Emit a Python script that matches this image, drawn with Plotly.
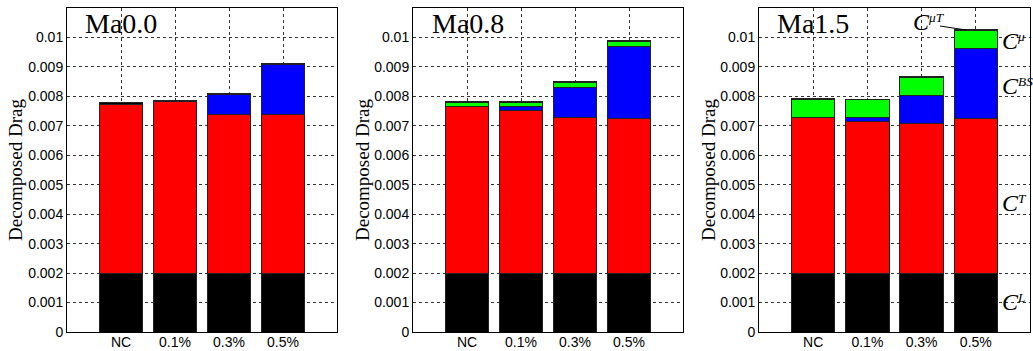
import plotly.graph_objects as go

W, H = 1033, 351

categories = ["NC", "0.1%", "0.3%", "0.5%"]
xpos = [1, 2, 3, 4]
panel_titles = ["Ma0.0", "Ma0.8", "Ma1.5"]

# components per Mach number: C^L, C^T, C^BS, C^mu, C^muT
CL_ma00 = [0.0020, 0.0020, 0.0020, 0.0020]
CT_ma00 = [0.00574, 0.00582, 0.00539, 0.00537]
CBS_ma00 = [0.0, 0.0, 0.00066, 0.00171]
Cmu_ma00 = [0.0, 0.0, 0.0, 0.0]
CmuT_ma00 = [0.00004, 0.00004, 0.00004, 0.00005]

CL_ma08 = [0.0020, 0.0020, 0.0020, 0.0020]
CT_ma08 = [0.00564, 0.00551, 0.00529, 0.00526]
CBS_ma08 = [0.0, 0.00013, 0.00100, 0.00244]
Cmu_ma08 = [0.00016, 0.00016, 0.00017, 0.00015]
CmuT_ma08 = [0.00003, 0.00003, 0.00003, 0.00003]

CL_ma15 = [0.0020, 0.0020, 0.0020, 0.0020]
CT_ma15 = [0.00527, 0.00513, 0.00509, 0.00526]
CBS_ma15 = [0.0, 0.00014, 0.00094, 0.00236]
Cmu_ma15 = [0.00062, 0.00061, 0.00062, 0.00062]
CmuT_ma15 = [0.00003, 0.00003, 0.00003, 0.00003]

ytick_vals = [0, 0.001, 0.002, 0.003, 0.004, 0.005, 0.006, 0.007, 0.008, 0.009, 0.01]
ytick_text = ["0", "0.001", "0.002", "0.003", "0.004", "0.005", "0.006", "0.007", "0.008", "0.009", "0.01"]

panels = [
    (CL_ma00, CT_ma00, CBS_ma00, Cmu_ma00, CmuT_ma00),
    (CL_ma08, CT_ma08, CBS_ma08, Cmu_ma08, CmuT_ma08),
    (CL_ma15, CT_ma15, CBS_ma15, Cmu_ma15, CmuT_ma15),
]
colors = ["#000000", "#FF0000", "#0000FF", "#00FF00", "#000000"]
names = ["C^L", "C^T", "C^BS", "C^mu", "C^muT"]

def px(x):
    return x / W

def py(y):
    return 1 - y / H

x_domains = [(67, 337), (413, 683), (759, 1030)]
y_domain = [py(332), py(8)]

fig = go.Figure()
for i, comps in enumerate(panels):
    ax = "" if i == 0 else str(i + 1)
    for j, vals in enumerate(comps):
        fig.add_trace(go.Bar(
            x=xpos, y=vals, name=names[j], showlegend=False,
            marker=dict(color=colors[j], line=dict(color="#222222", width=1)),
            xaxis="x" + ax, yaxis="y" + ax, width=0.8,
            hoverinfo="y",
        ))

tickfont = dict(family="Liberation Sans, Arial", size=14, color="black")
layout = dict(
    width=W, height=H, margin=dict(l=0, r=0, t=0, b=0),
    paper_bgcolor="white", plot_bgcolor="white",
    barmode="stack", showlegend=False,
    font=dict(family="Liberation Sans, Arial", size=14, color="black"),
)
for i, (a, b) in enumerate(x_domains):
    ax = "" if i == 0 else str(i + 1)
    layout["xaxis" + ax] = dict(
        domain=[px(a), px(b)], range=[0, 5], anchor="y" + ax,
        tickvals=xpos, ticktext=categories, automargin=False,
        ticklabelstandoff=-3,
        showgrid=True, gridcolor="#333333", griddash="3px,3px", gridwidth=1,
        showline=True, linecolor="black", linewidth=1, mirror=True,
        ticks="", zeroline=False, fixedrange=True, tickfont=tickfont,
    )
    layout["yaxis" + ax] = dict(
        domain=y_domain, range=[0, 0.011], anchor="x" + ax,
        tickvals=ytick_vals, ticktext=ytick_text, automargin=False,
        showgrid=True, gridcolor="#333333", griddash="3px,3px", gridwidth=1,
        showline=True, linecolor="black", linewidth=1, mirror=True,
        ticks="", zeroline=False, fixedrange=True, tickfont=tickfont,
    )
fig.update_layout(**layout)

annotations = []
title_x = [85, 432, 777]
ylab_x = [15, 362, 708]
for i in range(3):
    annotations.append(dict(
        text=panel_titles[i], xref="paper", yref="paper",
        x=px(title_x[i] - 2), y=py(23), xanchor="left", yanchor="middle",
        showarrow=False,
        font=dict(family="Liberation Serif, Times New Roman", size=28, color="black"),
    ))
    annotations.append(dict(
        text="Decomposed Drag", xref="paper", yref="paper",
        x=px(ylab_x[i]), y=py(170), xanchor="center", yanchor="middle",
        textangle=-90, showarrow=False,
        font=dict(family="Liberation Serif, Times New Roman", size=19, color="black"),
    ))

cfont = dict(family="Liberation Serif, Times New Roman", size=24, color="black")
sup = "<span style='font-size:19px'><sup><i>{}</i></sup></span>"
labels = [
    ("<i>C</i>" + sup.format("μT"), 911, 22),
    ("<i>C</i>" + sup.format("μ"), 1000, 41),
    ("<i>C</i>" + sup.format("BS"), 1000, 86),
    ("<i>C</i>" + sup.format("T"), 1000, 203),
    ("<i>C</i>" + sup.format("L"), 1000, 302),
]
for txt, x, y in labels:
    annotations.append(dict(
        text=txt, xref="paper", yref="paper", x=px(x), y=py(y),
        xanchor="left", yanchor="middle", showarrow=False, font=cfont,
    ))
fig.update_layout(annotations=annotations)

fig.add_shape(type="line", xref="paper", yref="paper",
              x0=px(940), y0=py(26), x1=px(966), y1=py(30),
              line=dict(color="black", width=1))

fig.write_html("out.html")
